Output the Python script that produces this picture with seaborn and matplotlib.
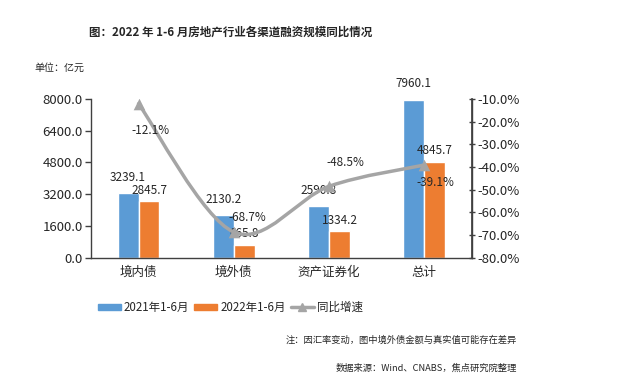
import matplotlib
matplotlib.use("Agg")
import matplotlib.pyplot as plt
import matplotlib.ticker as mticker
from matplotlib.path import Path
from matplotlib.patches import PathPatch, Patch
from matplotlib.lines import Line2D
import seaborn as sns
import pandas as pd
import numpy as np

categories = ["境内债", "境外债", "资产证券化", "总计"]
v2021 = [3239.1, 2130.2, 2590.8, 7960.1]
v2022 = [2845.7, 665.8, 1334.2, 4845.7]
growth = [-12.1, -68.7, -48.5, -39.1]
series_names = ["2021年1-6月", "2022年1-6月"]
line_name = "同比增速"

sns.set_theme(style="white")
plt.rcParams["font.family"] = ["Noto Sans CJK SC", "DejaVu Sans"]
plt.rcParams["axes.unicode_minus"] = False

BLUE = "#5B9BD5"
ORANGE = "#ED7D31"
GRAY = "#A5A5A5"
TXT = "#262626"

df = pd.DataFrame({
    "cat": categories * 2,
    "val": v2021 + v2022,
    "series": [series_names[0]] * 4 + [series_names[1]] * 4,
})
dg = pd.DataFrame({"x": np.arange(len(categories)), "g": growth})

fig = plt.figure(figsize=(6.4, 3.81), dpi=100)
ax = fig.add_axes([0.142, 0.3236, 0.5955, 0.4165])
sns.barplot(data=df, x="cat", y="val", hue="series", palette=[BLUE, ORANGE],
            width=0.44, ax=ax, legend=False, saturation=1)
ax.set_ylim(0, 8000)
ax.set_yticks(np.arange(0, 8001, 1600))
ax.yaxis.set_major_formatter(mticker.FormatStrFormatter("%.1f"))
ax.set_xlim(-0.5, 3.5)
ax.set_xlabel("")
ax.set_ylabel("")
ax.set_xticks(range(4))
ax.set_xticklabels(categories)
ax.set_xticks(np.arange(-0.5, 3.6, 1), minor=True)
ax.tick_params(axis="x", which="major", length=0, labelsize=9, pad=6, labelcolor=TXT)
ax.tick_params(axis="x", which="minor", length=4, width=1, color="#404040", direction="out")
ax.tick_params(axis="y", length=4, width=1, color="#404040", direction="out",
               labelsize=9.5, pad=2, labelcolor=TXT)
ax.spines["top"].set_visible(False)
for s in ["left", "bottom", "right"]:
    ax.spines[s].set_color("#404040")
    ax.spines[s].set_linewidth(1)

# bar labels
pads = [7, 3]
for cont, p in zip(ax.containers, pads):
    ax.bar_label(cont, fmt="%.1f", fontsize=8.5, padding=p, color=TXT)

ax2 = ax.twinx()
ax2.set_ylim(-80, -10)
ax2.set_xlim(-0.5, 3.5)
ax2.set_yticks(np.arange(-80, -9, 10))
ax2.yaxis.set_major_formatter(mticker.FuncFormatter(lambda v, p: f"{v:.1f}%"))
ax2.tick_params(axis="y", length=4, width=1, color="#404040", direction="inout",
                labelsize=9.5, pad=2, labelcolor=TXT)
for s in ["top", "left", "bottom"]:
    ax2.spines[s].set_visible(False)
ax2.spines["right"].set_color("#404040")

# smoothed line (Excel-style bezier smoothing computed in display space)
pts = ax2.transData.transform(np.column_stack([dg["x"], dg["g"]]))
n = len(pts)
verts = [pts[0]]
codes = [Path.MOVETO]
t = 1.0 / 6.0
for i in range(n - 1):
    p0 = pts[i - 1] if i > 0 else pts[i]
    p1 = pts[i]
    p2 = pts[i + 1]
    p3 = pts[i + 2] if i + 2 < n else pts[i + 1]
    c1 = p1 + (p2 - p0) * t
    c2 = p2 - (p3 - p1) * t
    verts += [c1, c2, p2]
    codes += [Path.CURVE4] * 3
inv = ax2.transData.inverted()
verts_data = inv.transform(np.array(verts))
ax2.add_patch(PathPatch(Path(verts_data, codes), facecolor="none", edgecolor=GRAY,
                        linewidth=2.5, capstyle="round", zorder=3))
sns.scatterplot(data=dg, x="x", y="g", ax=ax2, marker="^", s=70, color=GRAY,
                edgecolor=GRAY, linewidth=0, zorder=4, legend=False)
ax2.set_ylabel("")
ax2.set_xlabel("")
ax2.set_xlim(-0.5, 3.5)
ax2.set_ylim(-80, -10)

offsets = [(12, -27), (14, 15), (16, 24), (11, -18)]
for i, g in enumerate(growth):
    dx, dy = offsets[i]
    ax2.annotate(f"{g:.1f}%", (i, g), xytext=(dx * 0.72, dy * 0.72), textcoords="offset points",
                 ha="center", va="center", fontsize=8.5, color=TXT)

# title & texts
fig.text(0.361, 0.916, "图：2022 年 1-6 月房地产行业各渠道融资规模同比情况",
         ha="center", va="center", fontsize=8.3, fontweight="bold", color=TXT)
fig.text(0.054, 0.822, "单位：亿元", ha="left", va="center", fontsize=7.2, color=TXT)

# legend
handles = [Patch(color=BLUE), Patch(color=ORANGE),
           Line2D([0], [0], color=GRAY, lw=2.5, marker="^", markersize=6)]
fig.legend(handles, series_names + [line_name], loc="center", bbox_to_anchor=(0.360, 0.193),
           ncol=3, frameon=False, fontsize=8.3, handlelength=2.0, handleheight=0.5,
           columnspacing=0.4, handletextpad=0.3, labelcolor=TXT)

fig.text(0.808, 0.108, "注：因汇率变动，图中境外债金额与真实值可能存在差异",
         ha="right", va="center", fontsize=6.7, color=TXT)
fig.text(0.808, 0.034, "数据来源：Wind、CNABS，焦点研究院整理",
         ha="right", va="center", fontsize=6.7, color=TXT)

fig.savefig("out.png", dpi=100)
